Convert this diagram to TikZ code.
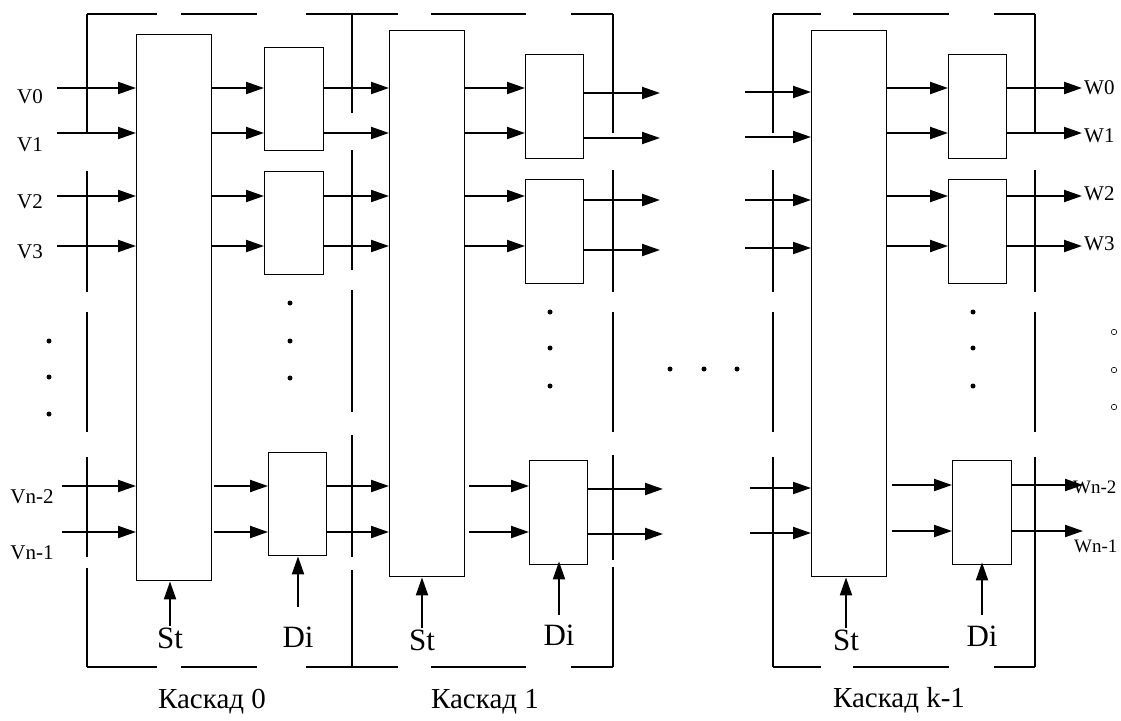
\documentclass[tikz,border=0pt]{standalone}
\usepackage{fontspec}
\setmainfont{Liberation Serif}
\usetikzlibrary{arrows.meta}
\begin{document}
\begin{tikzpicture}[x=1pt,y=-1pt,
  box/.style={draw, line width=1.4pt, inner sep=0pt, anchor=north west},
  arr/.style={line width=2pt, -{Triangle[length=18pt,width=12pt]}},
  frame/.style={line width=2.2pt},
  lbl/.style={font=\fontsize{21}{21}\selectfont, inner sep=0pt},
  slbl/.style={font=\fontsize{19}{19}\selectfont, inner sep=0pt},
  sig/.style={font=\fontsize{31}{31}\selectfont, inner sep=0pt},
  captxt/.style={font=\fontsize{29}{29}\selectfont, inner sep=0pt},
  dot/.style={fill, circle, inner sep=0pt, minimum size=5pt},
  odot/.style={draw, circle, line width=0.6pt, inner sep=0pt, minimum size=5.5pt},
]
\useasboundingbox (0,0) rectangle (1121,720);

% ---------- frames (dashed outlines) ----------
\foreach \y in {14,667}{
  \draw[frame] (87,\y) -- (157,\y);
  \draw[frame] (181,\y) -- (257,\y);
  \draw[frame] (306,\y) -- (398,\y);
  \draw[frame] (431,\y) -- (526,\y);
  \draw[frame] (571,\y) -- (613,\y);
  \draw[frame] (773,\y) -- (821,\y);
  \draw[frame] (853,\y) -- (949,\y);
  \draw[frame] (994,\y) -- (1035,\y);
}
\foreach \a/\b in {14/133,171/292,312/432,457/557,568/667} \draw[frame] (87,\a) -- (87,\b);
\foreach \a/\b in {14/113,150/270,290/412,435/557,570/667} \draw[frame] (352,\a) -- (352,\b);
\foreach \a/\b in {14/133,170/292,312/432,455/560,567/667} \draw[frame] (613,\a) -- (613,\b);
\foreach \a/\b in {14/133,170/292,312/432,457/667} \draw[frame] (773,\a) -- (773,\b);
\foreach \a/\b in {14/133,170/292,312/432,457/667} \draw[frame] (1035,\a) -- (1035,\b);

% ---------- boxes ----------
\node[box, minimum width=75pt, minimum height=546pt] (B0) at (136,34) {};
\node[box, minimum width=75pt, minimum height=546pt] (B1) at (389,30) {};
\node[box, minimum width=75pt, minimum height=546pt] (B2) at (811,30) {};

\node[box, minimum width=59pt, minimum height=103pt] (S0a) at (264,47) {};
\node[box, minimum width=59pt, minimum height=103pt] (S0b) at (264,171) {};
\node[box, minimum width=58pt, minimum height=103pt] (S0c) at (268,452) {};

\node[box, minimum width=58pt, minimum height=104pt] (S1a) at (525,54) {};
\node[box, minimum width=58pt, minimum height=104pt] (S1b) at (525,179) {};
\node[box, minimum width=58pt, minimum height=104pt] (S1c) at (529,460) {};

\node[box, minimum width=58pt, minimum height=104pt] (S2a) at (948,54) {};
\node[box, minimum width=58pt, minimum height=104pt] (S2b) at (948,179) {};
\node[box, minimum width=59pt, minimum height=104pt] (S2c) at (952,460) {};

% ---------- row levels ----------
\foreach \n/\y in {a0/88,a1/133,a2/196,a3/246,a4/486,a5/532,
                   b0/93,b1/138,b2/200,b3/250,b4/489,b5/534,
                   c0/92,c1/137,c2/200,c3/248,c4/488,c5/533,
                   d0/88,d1/133,d2/196,d3/246,d4/485,d5/531}
  \coordinate (\n) at (0,\y);

\coordinate (in0) at (57,0);
\coordinate (in0b) at (62,0);
\coordinate (out1) at (660,0);
\coordinate (out1b) at (663,0);
\coordinate (in2) at (745,0);
\coordinate (in2b) at (750,0);
\coordinate (out2) at (1082,0);
\coordinate (out2b) at (1083,0);

% ---------- cascade 0 ----------
\foreach \r in {a0,a1,a2,a3} \draw[arr] (in0 |- \r) -- (B0.west |- \r);
\foreach \r in {a4,a5} \draw[arr] (in0b |- \r) -- (B0.west |- \r);
\foreach \r in {a0,a1} \draw[arr] (B0.east |- \r) -- (S0a.west |- \r);
\foreach \r in {a2,a3} \draw[arr] (B0.east |- \r) -- (S0b.west |- \r);
\foreach \r in {a4,a5} \draw[arr] ([xshift=2pt]B0.east |- \r) -- (S0c.west |- \r);
\foreach \r in {a0,a1} \draw[arr] (S0a.east |- \r) -- (B1.west |- \r);
\foreach \r in {a2,a3} \draw[arr] (S0b.east |- \r) -- (B1.west |- \r);
\foreach \r in {a4,a5} \draw[arr] (S0c.east |- \r) -- (B1.west |- \r);

% ---------- cascade 1 ----------
\foreach \r in {a0,a1} \draw[arr] (B1.east |- \r) -- (S1a.west |- \r);
\foreach \r in {a2,a3} \draw[arr] (B1.east |- \r) -- (S1b.west |- \r);
\foreach \r in {a4,a5} \draw[arr] ([xshift=4pt]B1.east |- \r) -- (S1c.west |- \r);
\foreach \r in {b0,b1} \draw[arr] (S1a.east |- \r) -- (out1 |- \r);
\foreach \r in {b2,b3} \draw[arr] (S1b.east |- \r) -- (out1 |- \r);
\foreach \r in {b4,b5} \draw[arr] (S1c.east |- \r) -- (out1b |- \r);

% ---------- cascade k-1 ----------
\foreach \r in {c0,c1,c2,c3} \draw[arr] (in2 |- \r) -- (B2.west |- \r);
\foreach \r in {c4,c5} \draw[arr] (in2b |- \r) -- (B2.west |- \r);
\foreach \r in {d0,d1} \draw[arr] (B2.east |- \r) -- (S2a.west |- \r);
\foreach \r in {d2,d3} \draw[arr] (B2.east |- \r) -- (S2b.west |- \r);
\foreach \r in {d4,d5} \draw[arr] ([xshift=5pt]B2.east |- \r) -- (S2c.west |- \r);
\foreach \r in {d0,d1} \draw[arr] (S2a.east |- \r) -- (out2 |- \r);
\foreach \r in {d2,d3} \draw[arr] (S2b.east |- \r) -- (out2 |- \r);
\foreach \r in {d4,d5} \draw[arr] (S2c.east |- \r) -- (out2b |- \r);

% ---------- input / output labels ----------
\node[lbl] (V0) at (30,97) {V0};
\node[lbl] (V1) at (30,145) {V1};
\node[lbl] (V2) at (30,202) {V2};
\node[lbl] (V3) at (30,252) {V3};
\node[lbl] (Vn2) at (32,497) {Vn-2};
\node[lbl] (Vn1) at (32,553) {Vn-1};

\node[lbl, anchor=west] (W0) at (1084,88) {W0};
\node[lbl, anchor=west] (W1) at (1084,136) {W1};
\node[lbl, anchor=west] (W2) at (1084,194) {W2};
\node[lbl, anchor=west] (W3) at (1084,244) {W3};
\node[slbl, anchor=west] (Wn2) at (1073,487) {Wn-2};
\node[slbl, anchor=west] (Wn1) at (1074,546) {Wn-1};

% ---------- St / Di ----------
\node[sig] (St0) at (170,638) {St};
\node[sig] (St1) at (422,640) {St};
\node[sig] (St2) at (846,640) {St};
\node[sig] (Di0) at (298,637) {Di};
\node[sig] (Di1) at (559,635) {Di};
\node[sig] (Di2) at (982,636) {Di};

\draw[arr] ([yshift=1pt]St0.north) -- (St0.north |- B0.south);
\draw[arr] ([yshift=1pt]St1.north) -- (St1.north |- B1.south);
\draw[arr] ([yshift=1pt]St2.north) -- (St2.north |- B2.south);

\coordinate (dd0) at (298,607);
\coordinate (dd1) at (559,615);
\coordinate (dd2) at (982,615);
\draw[arr] (dd0) -- (dd0 |- S0c.south);
\draw[arr] (dd1) -- ([yshift=4pt]dd1 |- S1c.south);
\draw[arr] (dd2) -- ([yshift=3pt]dd2 |- S2c.south);

% ---------- captions ----------
\node[captxt] (K0) at (212,702) {Каскад 0};
\node[captxt] (K1) at (485,702) {Каскад 1};
\node[captxt] (K2) at (899,700) {Каскад k-1};

% ---------- dots ----------
\foreach \x/\y in {49/341,49/377,49/414,
                   290/303,290/341,290/378,
                   550/312,550/348,550/386,
                   670/369,704/369,737/369,
                   973/312,973/348,973/386}
  \node[dot] at (\x,\y) {};
\foreach \y in {332,370,407} \node[odot] at (1114,\y) {};

\end{tikzpicture}
\end{document}
